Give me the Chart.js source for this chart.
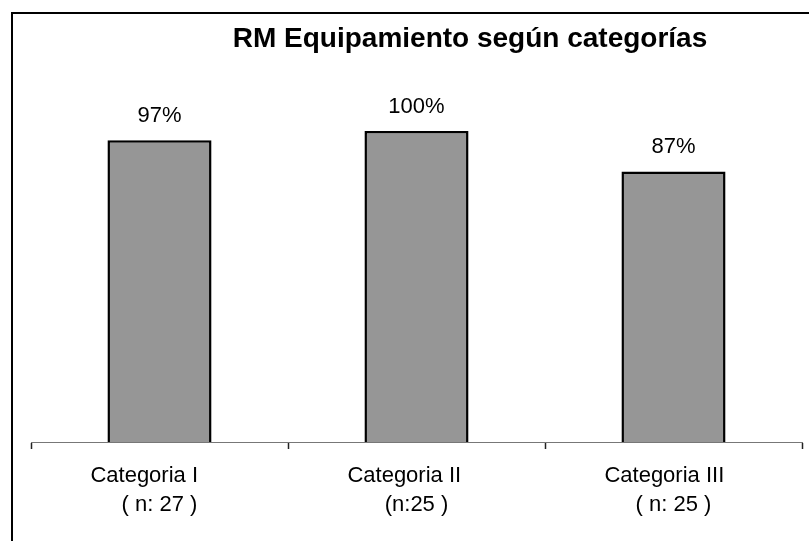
<!DOCTYPE html>
<html>
<head>
<meta charset="utf-8">
<script src="https://cdn.jsdelivr.net/npm/chart.js@4.4.0/dist/chart.umd.min.js"></script>
<style>
  html, body { margin: 0; padding: 0; background: #fff; overflow: hidden; }
  #wrap { position: relative; width: 809px; height: 541px; }
</style>
</head>
<body>
<div id="wrap"><canvas id="myChart"></canvas></div>
<script>
// datos del grafico
const chartTitle = 'RM Equipamiento según categorías';
const categoryNames = ['Categoria I     ', 'Categoria II    ', 'Categoria III   '];
const sampleSizes = ['( n: 27 )', '(n:25 )', '( n: 25 )'];
const percentValues = [97, 100, 87];

const labels = categoryNames.map((name, i) => [name, sampleSizes[i]]);

// marco + titulo
const framePlugin = {
  id: 'frame',
  beforeDraw(chart) {
    const c = chart.ctx;
    c.save();
    c.fillStyle = '#fff';
    c.fillRect(0, 0, chart.width, chart.height);
    c.strokeStyle = '#000';
    c.lineWidth = 2;
    c.beginPath();
    c.moveTo(12, chart.height);
    c.lineTo(12, 13);
    c.lineTo(chart.width, 13);
    c.stroke();
    c.fillStyle = '#000';
    c.font = 'bold 28px "Liberation Sans", Arial, sans-serif';
    c.textAlign = 'center';
    c.textBaseline = 'middle';
    c.fillText(chartTitle, 470, 39);
    c.restore();
  }
};

// etiquetas encima de las barras
const valueLabels = {
  id: 'valueLabels',
  afterDatasetsDraw(chart) {
    const c = chart.ctx;
    const meta = chart.getDatasetMeta(0);
    c.save();
    c.fillStyle = '#000';
    c.font = '22px "Liberation Sans", Arial, sans-serif';
    c.textAlign = 'center';
    c.textBaseline = 'alphabetic';
    meta.data.forEach((bar, i) => {
      c.fillText(percentValues[i] + '%', bar.x, bar.y - 18);
    });
    c.restore();
  }
};

const ctx = document.getElementById('myChart').getContext('2d');
new Chart(ctx, {
  type: 'bar',
  data: {
    labels: labels,
    datasets: [{
      data: percentValues,
      backgroundColor: '#969696',
      borderColor: '#000',
      borderWidth: 2.5,
      borderSkipped: 'bottom',
      categoryPercentage: 1,
      barPercentage: 0.405
    }]
  },
  options: {
    responsive: true,
    maintainAspectRatio: false,
    animation: false,
    layout: { padding: { left: 31, right: 7, top: 131, bottom: 0 } },
    plugins: {
      legend: { display: false },
      title: { display: false },
      tooltip: { enabled: false }
    },
    scales: {
      y: { display: false, min: 0, max: 100 },
      x: {
        afterFit(scale) { scale.height = 99; },
        border: { display: true, color: '#777', width: 1 },
        grid: {
          offset: true,
          drawOnChartArea: false,
          drawTicks: true,
          tickLength: 7,
          tickColor: '#222',
          tickWidth: 1.5
        },
        ticks: {
          color: '#000',
          padding: 12,
          maxRotation: 0,
          autoSkip: false,
          font: { family: '"Liberation Sans", Arial, sans-serif', size: 22, lineHeight: 1.32 }
        }
      }
    }
  },
  plugins: [framePlugin, valueLabels]
});
</script>
</body>
</html>
